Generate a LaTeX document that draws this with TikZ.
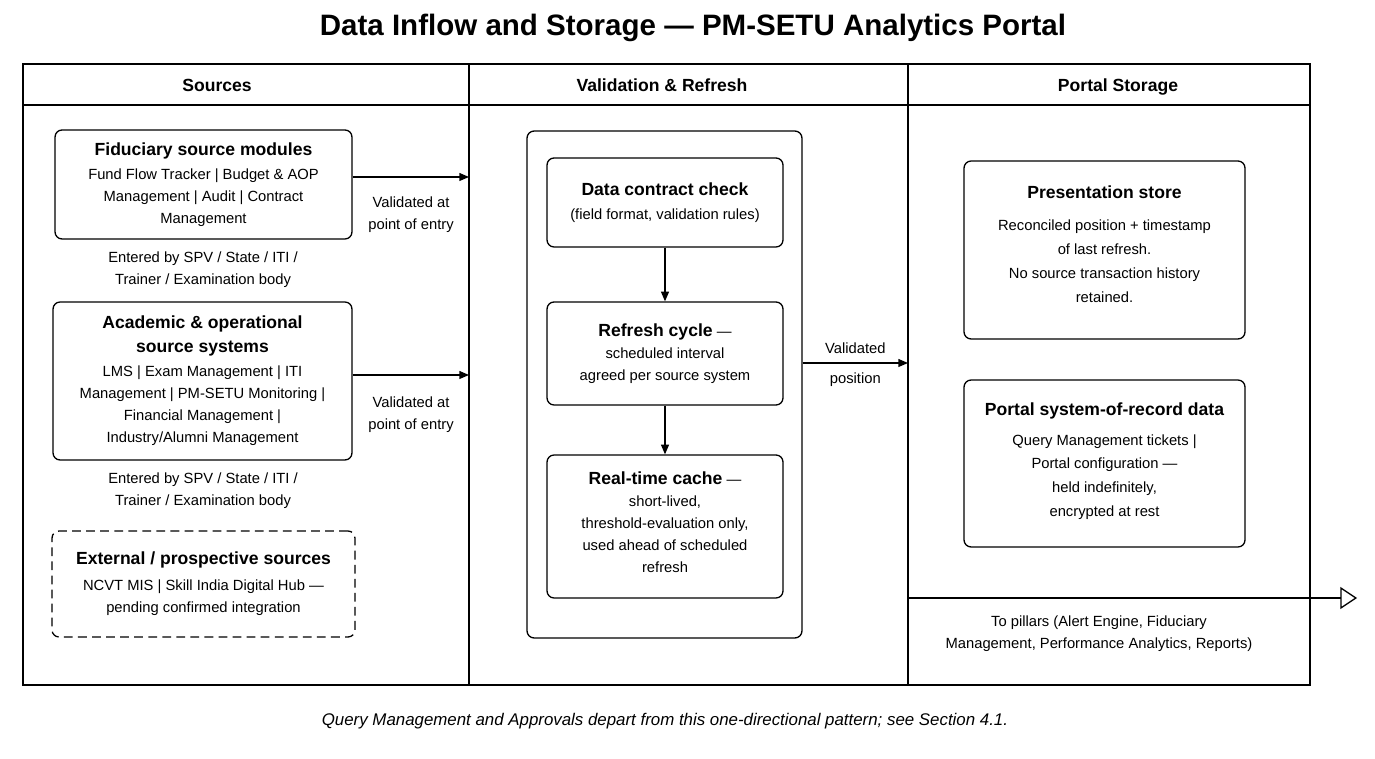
\documentclass[tikz,border=0pt]{standalone}
\usepackage{fontspec}
\setmainfont{Liberation Sans}
\usetikzlibrary{arrows.meta}

\newcommand\bodyfont{\fontsize{8.4}{12.6}\selectfont}
\newcommand\hd[1]{{\bfseries\fontsize{10}{12.6}\selectfont #1}}

\begin{document}
\begin{tikzpicture}[x=0.02cm,y=-0.02cm,>={Triangle[length=5.5pt,width=4.5pt]},
    line width=0.75pt,
    box/.style={draw,rounded corners=4pt,align=center,font=\bodyfont,inner sep=0pt},
    note/.style={align=center,font=\bodyfont,inner sep=2pt},
    head/.style={font=\bfseries\fontsize{10}{12}\selectfont,text height=1.6ex,text depth=0.4ex},
    frame/.style={draw,line width=0.85pt}]
    \useasboundingbox (0,0) rectangle (1375,759);
    \node[font=\bfseries\fontsize{16.8}{20}\selectfont] (title) at (693,28)
      {Data Inflow and Storage — PM-SETU Analytics Portal};
    % lanes
    \draw[frame] (23,64) rectangle (1310,685);
    \draw[frame] (23,105) -- (1310,105);
    \draw[frame] (469,64) -- (469,685);
    \draw[frame] (908,64) -- (908,685);
    \node[head] (h1) at (217,86) {Sources};
    \node[head] (h2) at (662,86) {Validation \& Refresh};
    \node[head] (h3) at (1118,86) {Portal Storage};
    % sources
    \node[box,minimum width=5.94cm,minimum height=2.18cm] (fid) at (203.5,184.5)
      {\hd{Fiduciary source modules}\\[1pt] Fund Flow Tracker | Budget \& AOP\\
       Management | Audit | Contract\\ Management};
    \node[note] (ent1) at (203,270) {Entered by SPV / State / ITI /\\ Trainer / Examination body};
    \node[box,minimum width=5.98cm,minimum height=3.16cm] (acad) at (202.5,381)
      {\hd{Academic \& operational}\\[1pt] \hd{source systems}\\[1pt] LMS | Exam Management | ITI\\
       Management | PM-SETU Monitoring |\\ Financial Management |\\ Industry/Alumni Management};
    \node[note] (ent2) at (203,491) {Entered by SPV / State / ITI /\\ Trainer / Examination body};
    \node[box,dashed,dash pattern=on 5pt off 3pt,minimum width=6.06cm,minimum height=2.12cm] (ext) at (203.5,584)
      {\hd{External / prospective sources}\\[2pt] NCVT MIS | Skill India Digital Hub —\\
       pending confirmed integration};
    \coordinate (in1) at (469,177);
    \coordinate (in2) at (469,375);
    \draw[->] (fid.east |- in1) -- (in1);
    \draw[->] (acad.east |- in2) -- (in2);
    \node[note] (val1) at (411,215) {Validated at\\ point of entry};
    \node[note] (val2) at (411,415) {Validated at\\ point of entry};
    % validation and refresh
    \node[box,minimum width=5.5cm,minimum height=10.14cm] (cont) at (664.5,384.5) {};
    \node[box,minimum width=4.72cm,minimum height=1.78cm] (check) at (665,202.5)
      {\hd{Data contract check}\\[1pt] (field format, validation rules)};
    \node[box,minimum width=4.72cm,minimum height=2.06cm] (cycle) at (665,353.5)
      {\hd{Refresh cycle} —\\ scheduled interval\\ agreed per source system};
    \node[box,minimum width=4.72cm,minimum height=2.86cm] (cache) at (665,526.5) {};
    \node[note] (cachetxt) at (665,522)
      {\hd{Real-time cache} —\\ short-lived,\\ threshold-evaluation only,\\
       used ahead of scheduled\\ refresh};
    \draw[->] (check) -- (cycle);
    \draw[->] (cycle) -- (cache);
    \coordinate (vp) at (908,363);
    \draw[->] (cont.east |- vp) -- node[note,above=3pt] {Validated} node[note,below=3pt] {position} (vp);
    % portal storage
    \node[box,minimum width=5.62cm,minimum height=3.56cm] (pres) at (1104.5,250) {};
    \node[note] (prestxt) at (1104.5,244)
      {\hd{Presentation store}\\[6pt] Reconciled position + timestamp\\[1pt] of last refresh.\\[1pt]
       No source transaction history\\[1pt] retained.};
    \node[box,minimum width=5.62cm,minimum height=3.34cm] (sor) at (1104.5,463.5) {};
    \node[note] (sortxt) at (1104.5,461.5)
      {\hd{Portal system-of-record data}\\[4pt] Query Management tickets |\\[1pt] Portal configuration —\\[1pt]
       held indefinitely,\\[1pt] encrypted at rest};
    \coordinate (out0) at (908,598);
    \coordinate (out1) at (1357,598);
    \draw[-{Triangle[open,length=9.5pt,width=12.5pt]}] (out0) -- (out1);
    \node[note] (pill) at (1099,634) {To pillars (Alert Engine, Fiduciary\\
      Management, Performance Analytics, Reports)};
    \node[font=\itshape\fontsize{9.6}{11}\selectfont] (cap) at (665,721)
      {Query Management and Approvals depart from this one-directional pattern; see Section 4.1.};
\end{tikzpicture}
\end{document}
